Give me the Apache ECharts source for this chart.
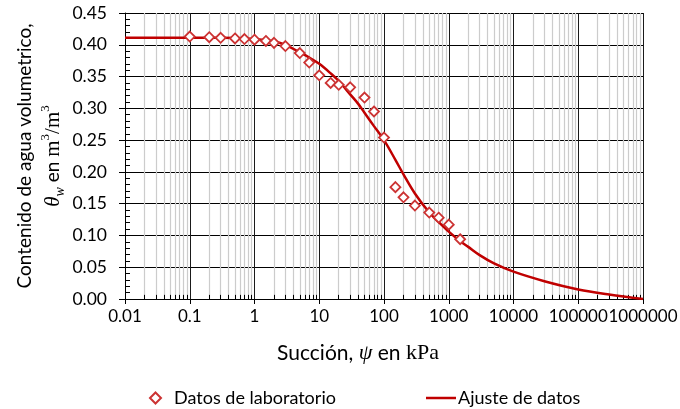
<!DOCTYPE html>
<html>
<head>
<meta charset="utf-8">
<script src="https://cdn.jsdelivr.net/npm/echarts@6/dist/echarts.min.js"></script>
<style>
  html, body { margin: 0; padding: 0; background: #fff; }
  #chart { width: 680px; height: 409px; }
</style>
</head>
<body>
<div id="chart"></div>
<script>
// Laboratory measurements: suction (kPa) and volumetric water content (m3/m3)
const labSuction = [0.1, 0.2, 0.3, 0.5, 0.7, 1, 1.5, 2, 3, 5, 7, 10, 15, 20, 30, 50, 70, 100, 150, 200, 300, 500, 700, 1000, 1500];
const labTheta = [0.413, 0.412, 0.411, 0.410, 0.409, 0.408, 0.406, 0.403, 0.398, 0.387, 0.372, 0.352, 0.340, 0.337, 0.333, 0.317, 0.295, 0.254, 0.176, 0.160, 0.147, 0.136, 0.128, 0.117, 0.094];

// Fitted soil-water characteristic curve
const fitSuction = [0.01, 0.1, 0.3, 1, 2, 3, 5, 7, 10, 15, 20, 30, 40, 50, 70, 100, 150, 200, 300, 500, 700, 1000, 1500, 2000, 3000, 5000, 10000, 30000, 100000, 300000, 1000000];
const fitTheta = [0.411, 0.411, 0.411, 0.409, 0.405, 0.400, 0.388, 0.380, 0.370, 0.355, 0.343, 0.322, 0.307, 0.293, 0.272, 0.250, 0.219, 0.196, 0.166, 0.136, 0.121, 0.106, 0.091, 0.082, 0.069, 0.056, 0.043, 0.028, 0.015, 0.007, 0.000];

// Axis tick labels
const xTickLabels = ['0.01', '0.1', '1', '10', '100', '1000', '10000', '100000', '1000000'];
const yTickLabels = ['0.00', '0.05', '0.10', '0.15', '0.20', '0.25', '0.30', '0.35', '0.40', '0.45'];

const SANS = 'Lato, "Open Sans", sans-serif';
const SERIF = '"Liberation Serif", "DejaVu Serif", serif';

// Minor log gridlines (2..9 in every decade) and their small inner ticks
const minorGrid = [];
for (let k = -2; k < 6; k++) {
  for (let m = 2; m <= 9; m++) {
    const v = m * Math.pow(10, k);
    minorGrid.push({ xAxis: v, lineStyle: { color: '#cccccc', width: 1.2, type: 'solid' } });
    minorGrid.push([
      { coord: [v, 0], lineStyle: { color: '#000', width: 1, type: 'solid' } },
      { coord: [v, 0.0065] }
    ]);
  }
}

const chart = echarts.init(document.getElementById('chart'), null, { renderer: 'canvas' });

chart.setOption({
  animation: false,
  backgroundColor: '#fff',
  grid: { left: 125, right: 37, top: 13, bottom: 110, containLabel: false, outerBoundsMode: 'none' },
  xAxis: {
    type: 'log',
    logBase: 10,
    min: 0.01,
    max: 1000000,
    splitNumber: 8,
    name: '{s|Succión, }{p|ψ}{s| en }{k|kPa}',
    nameLocation: 'middle',
    nameGap: 43,
    nameMoveOverlap: false,
    nameTextStyle: {
      padding: [0, 52, 0, 0],
      rich: {
        s: { fontFamily: SANS, fontSize: 21, color: '#000' },
        p: { fontFamily: SERIF, fontStyle: 'italic', fontSize: 22, color: '#000' },
        k: { fontFamily: SERIF, fontSize: 22, color: '#000' }
      }
    },
    axisLine: { show: true, onZero: false, lineStyle: { color: '#000', width: 1 } },
    axisTick: { show: true, inside: false, length: 5, lineStyle: { color: '#000', width: 1 } },
    axisLabel: {
      show: true,
      margin: 9,
      hideOverlap: false,
      showMinLabel: true,
      showMaxLabel: true,
      fontFamily: SANS,
      fontSize: 17,
      color: '#000',
      formatter: (v, i) => xTickLabels[i]
    },
    splitLine: { show: true, lineStyle: { color: '#1a1a1a', width: 1 } },
    minorTick: { show: false },
    minorSplitLine: { show: false }
  },
  yAxis: [
    {
      type: 'value',
      min: 0,
      max: 0.45,
      interval: 0.05,
      position: 'left',
      name: '{a|Contenido de agua volumetrico,}\n{t|θ}{sub|w}{a| en }{m|m}{sup|3}{m|/m}{sup|3}',
      nameLocation: 'middle',
      nameRotate: 90,
      nameGap: 58,
      nameMoveOverlap: false,
      nameTextStyle: {
        align: 'center',
        rich: {
          a: { fontFamily: SANS, fontSize: 19, lineHeight: 28, color: '#000' },
          t: { fontFamily: SERIF, fontStyle: 'italic', fontSize: 21, lineHeight: 28, color: '#000' },
          sub: { fontFamily: SERIF, fontStyle: 'italic', fontSize: 14, lineHeight: 28, verticalAlign: 'bottom', color: '#000' },
          m: { fontFamily: SERIF, fontSize: 21, lineHeight: 28, color: '#000' },
          sup: { fontFamily: SERIF, fontSize: 13, lineHeight: 28, verticalAlign: 'top', color: '#000' }
        }
      },
      axisLine: { show: true, lineStyle: { color: '#000', width: 1 } },
      axisTick: { show: true, inside: false, length: 6, lineStyle: { color: '#000', width: 1 } },
      axisLabel: {
        margin: 18,
        fontFamily: SANS,
        fontSize: 17.5,
        color: '#000',
        formatter: (v, i) => yTickLabels[i]
      },
      splitLine: { show: true, lineStyle: { color: '#000', width: 1 } }
    },
    {
      // inner minor ticks every 0.01
      type: 'value',
      min: 0,
      max: 0.45,
      interval: 0.05,
      position: 'left',
      offset: 0,
      axisLine: { show: false },
      axisLabel: { show: false },
      splitLine: { show: false },
      axisTick: { show: false, inside: true },
      minorTick: { show: true, splitNumber: 5, length: 5, lineStyle: { color: '#000', width: 1 } }
    }
  ],
  legend: [
    {
      data: ['Datos de laboratorio'],
      left: 144,
      top: 384,
      itemWidth: 11,
      itemHeight: 11,
      textStyle: { fontFamily: SANS, fontSize: 18, color: '#000', padding: [0, 0, 0, 8] }
    },
    {
      data: [{ name: 'Ajuste de datos', icon: 'rect' }],
      left: 421,
      top: 384,
      itemWidth: 30,
      itemHeight: 2.5,
      textStyle: { fontFamily: SANS, fontSize: 18, color: '#000', padding: [0, 0, 0, -3] }
    }
  ],
  series: [
    {
      name: 'minor grid',
      type: 'line',
      data: [],
      z: 1,
      silent: true,
      markLine: {
        z: 1,
        silent: true,
        symbol: ['none', 'none'],
        label: { show: false },
        emphasis: { disabled: true },
        animation: false,
        lineStyle: { type: 'solid' },
        data: minorGrid
      }
    },
    {
      name: 'Ajuste de datos',
      type: 'line',
      data: fitSuction.map((s, i) => [s, fitTheta[i]]),
      symbol: 'none',
      showSymbol: false,
      smooth: 0.35,
      lineStyle: { color: '#c00000', width: 2.5 },
      itemStyle: { color: '#c00000' },
      z: 3
    },
    {
      name: 'Datos de laboratorio',
      type: 'scatter',
      data: labSuction.map((s, i) => [s, labTheta[i]]),
      symbol: 'diamond',
      symbolSize: 10,
      itemStyle: { color: '#ffffff', borderColor: '#cc3333', borderWidth: 1.8, opacity: 1 },
      z: 4
    }
  ]
});
</script>
</body>
</html>
